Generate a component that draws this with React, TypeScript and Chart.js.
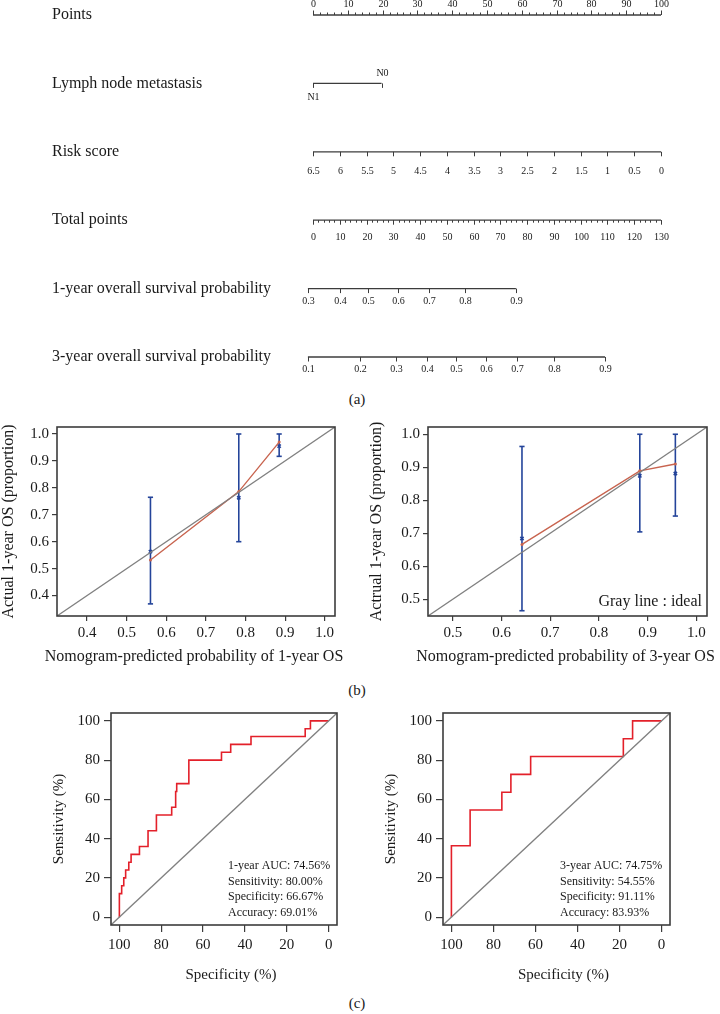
import React, { useEffect, useRef } from "react";
import { Chart, registerables } from "chart.js";

Chart.register(...registerables);

const SERIF = '"Liberation Serif", "DejaVu Serif", "Times New Roman", serif';
const AXIS = "#3c3c3c";
const TEXT = "#1a1a1a";
const GRAY = "#808080";
const BLUE = "#24449a";
const CAL_RED = "#c8644f";
const ROC_RED = "#e3202a";

Chart.defaults.font.family = SERIF;

// ---------------- (a) Nomogram data ----------------
const nomoRowLabels = [
  "Points",
  "Lymph node metastasis",
  "Risk score",
  "Total points",
  "1-year overall survival probability",
  "3-year overall survival probability",
];
const pointTicks = [0, 10, 20, 30, 40, 50, 60, 70, 80, 90, 100];
const lymphLabels = ["N1", "N0"];
const lymphPoints = [0, 19.7];
const riskTicks = [6.5, 6, 5.5, 5, 4.5, 4, 3.5, 3, 2.5, 2, 1.5, 1, 0.5, 0];
const totalTicks = [0, 10, 20, 30, 40, 50, 60, 70, 80, 90, 100, 110, 120, 130];
const os1Ticks = ["0.3", "0.4", "0.5", "0.6", "0.7", "0.8", "0.9"];
const os1TotalPoints = [-1.9, 10.1, 20.5, 31.8, 43.3, 56.8, 75.8];
const os3Ticks = ["0.1", "0.2", "0.3", "0.4", "0.5", "0.6", "0.7", "0.8", "0.9"];
const os3TotalPoints = [-1.9, 17.6, 31.0, 42.6, 53.4, 64.6, 76.2, 90.0, 109.1];

// ---------------- (b) Calibration data ----------------
const cal1Pred = [0.56, 0.783, 0.885];
const cal1Obs = [0.563, 0.763, 0.955];
const cal1Lo = [0.369, 0.6, 0.917];
const cal1Hi = [0.765, 1.0, 1.0];
const cal1Fit = [0.532, 0.786, 0.97];
const cal1Ticks = [0.4, 0.5, 0.6, 0.7, 0.8, 0.9, 1.0];

const cal2Pred = [0.642, 0.884, 0.957];
const cal2Obs = [0.684, 0.874, 0.881];
const cal2Lo = [0.465, 0.704, 0.752];
const cal2Hi = [0.963, 1.0, 1.0];
const cal2Fit = [0.666, 0.889, 0.91];
const cal2Ticks = [0.5, 0.6, 0.7, 0.8, 0.9, 1.0];

// ---------------- (c) ROC data ----------------
const roc1Spec = [100, 98.9, 97.9, 97.0, 95.5, 94.4, 90.4, 86.3, 82.3, 75.0, 73.1, 72.6, 66.8, 51.2, 46.8, 37.1, 11.2, 8.7, 0];
const roc1Sens = [12, 16, 20, 24, 28, 32, 36, 44, 52, 56, 64, 68, 80, 84, 88, 92, 96, 100, 100];
const roc1Text = ["1-year AUC: 74.56%", "Sensitivity: 80.00%", "Specificity: 66.67%", "Accuracy: 69.01%"];

const roc2Spec = [100, 91.1, 76.0, 71.7, 62.3, 18.2, 13.8, 0];
const roc2Sens = [36.36, 54.55, 63.64, 72.73, 81.82, 90.91, 100, 100];
const roc2Text = ["3-year AUC: 74.75%", "Sensitivity: 54.55%", "Specificity: 91.11%", "Accuracy: 83.93%"];

const rocTicks = [0, 20, 40, 60, 80, 100];

// ---------------- helpers ----------------
type Box = { l: number; t: number; r: number; b: number };

const RISK_MAX = riskTicks[0];
const TOTAL_MAX = totalTicks[totalTicks.length - 1];
const riskToPoints = (s: number) => ((RISK_MAX - s) / RISK_MAX) * 100;
const totalToPoints = (t: number) => (t * 100) / TOTAL_MAX;

function ChartCanvas({ box, make }: { box: Box; make: () => any }) {
  const ref = useRef<HTMLCanvasElement | null>(null);
  useEffect(() => {
    if (!ref.current) return;
    const chart = new Chart(ref.current, make());
    return () => chart.destroy();
  }, []);
  const w = box.r - box.l;
  const h = box.b - box.t;
  return (
    <canvas
      ref={ref}
      width={w}
      height={h}
      style={{ position: "absolute", left: box.l, top: box.t, width: w, height: h }}
    />
  );
}

function Caption({ text, x, y }: { text: string; x: number; y: number }) {
  return (
    <div
      style={{
        position: "absolute",
        left: x - 30,
        top: y - 10,
        width: 60,
        height: 20,
        lineHeight: "20px",
        textAlign: "center",
        fontFamily: SERIF,
        fontSize: 15,
        color: TEXT,
      }}
    >
      {text}
    </div>
  );
}

// ---------------- Nomogram ----------------
const NOMO_BOX: Box = { l: 0, t: 0, r: 720, b: 385 };

type NomoAxis = {
  row: number;
  major: number[];
  labels: string[];
  minor: number[];
  tickDir: number;
  labelDy: number[];
};

function makeNomogram() {
  const pointMinor: number[] = [];
  for (let v = 0; v <= 100; v += 2) pointMinor.push(v);
  const totalMinor: number[] = [];
  for (let v = 0; v <= TOTAL_MAX; v += 2) totalMinor.push(totalToPoints(v));

  const axes: NomoAxis[] = [
    { row: 0, major: pointTicks, labels: pointTicks.map(String), minor: pointMinor, tickDir: -1, labelDy: pointTicks.map(() => -11) },
    { row: 1, major: lymphPoints, labels: lymphLabels, minor: [], tickDir: 1, labelDy: [14, -10] },
    { row: 2, major: riskTicks.map(riskToPoints), labels: riskTicks.map(String), minor: [], tickDir: 1, labelDy: riskTicks.map(() => 20) },
    { row: 3, major: totalTicks.map(totalToPoints), labels: totalTicks.map(String), minor: totalMinor, tickDir: 1, labelDy: totalTicks.map(() => 17) },
    { row: 4, major: os1TotalPoints.map(totalToPoints), labels: os1Ticks, minor: [], tickDir: 1, labelDy: os1Ticks.map(() => 13) },
    { row: 5, major: os3TotalPoints.map(totalToPoints), labels: os3Ticks, minor: [], tickDir: 1, labelDy: os3Ticks.map(() => 12) },
  ];

  const datasets = axes.map((a) => {
    const all = a.major.concat(a.minor);
    return {
      data: [
        { x: Math.min(...all), y: a.row },
        { x: Math.max(...all), y: a.row },
      ],
      showLine: true,
      borderColor: AXIS,
      borderWidth: 1.3,
      pointRadius: 0,
      clip: false,
    };
  });

  const nomoPlugin = {
    id: "nomoTicks",
    afterDatasetsDraw(chart: any) {
      const { ctx } = chart;
      const xs = chart.scales.x;
      const ys = chart.scales.y;
      ctx.save();
      ctx.fillStyle = TEXT;
      ctx.font = `16px ${SERIF}`;
      ctx.textAlign = "left";
      ctx.textBaseline = "middle";
      nomoRowLabels.forEach((lab, i) => ctx.fillText(lab, 52, ys.getPixelForValue(i)));

      ctx.strokeStyle = AXIS;
      ctx.lineWidth = 1;
      ctx.font = `10px ${SERIF}`;
      ctx.textAlign = "center";
      axes.forEach((a) => {
        const y = ys.getPixelForValue(a.row);
        a.minor.forEach((v) => {
          const x = Math.round(xs.getPixelForValue(v)) + 0.5;
          ctx.beginPath();
          ctx.moveTo(x, y);
          ctx.lineTo(x, y + a.tickDir * 2.5);
          ctx.stroke();
        });
        a.major.forEach((v, i) => {
          const x = Math.round(xs.getPixelForValue(v)) + 0.5;
          ctx.beginPath();
          ctx.moveTo(x, y);
          ctx.lineTo(x, y + a.tickDir * 4.5);
          ctx.stroke();
          ctx.fillText(a.labels[i], x, y + a.labelDy[i]);
        });
      });
      ctx.restore();
    },
  };

  return {
    type: "scatter",
    data: { datasets },
    options: {
      responsive: false,
      animation: false,
      events: [],
      layout: { padding: { left: 313, right: 59, top: 15, bottom: 28 } },
      plugins: { legend: { display: false }, tooltip: { enabled: false } },
      scales: {
        x: { type: "linear", display: false, min: 0, max: 100 },
        y: { type: "linear", display: false, min: 0, max: nomoRowLabels.length - 1, reverse: true },
      },
    },
    plugins: [nomoPlugin],
  };
}

// ---------------- shared axis frame plugin ----------------
type FrameOpts = {
  xTitle: string;
  yTitle: string;
  xTitleDy: number;
  xTitleDx: number;
  yTitleDx: number;
  titleSize: number;
  notes?: string[];
  notesDx?: number;
  notesDy?: number;
  notesStep?: number;
  notesSize?: number;
  noteRight?: string;
};

function framePlugin(o: FrameOpts) {
  return {
    id: "frame",
    afterDraw(chart: any) {
      const { ctx, chartArea: a } = chart;
      ctx.save();
      ctx.strokeStyle = AXIS;
      ctx.lineWidth = 1.6;
      ctx.strokeRect(a.left, a.top, a.right - a.left, a.bottom - a.top);
      ctx.fillStyle = TEXT;
      ctx.font = `${o.titleSize}px ${SERIF}`;
      ctx.textAlign = "center";
      ctx.textBaseline = "middle";
      ctx.fillText(o.xTitle, (a.left + a.right) / 2 + o.xTitleDx, a.bottom + o.xTitleDy);
      ctx.save();
      ctx.translate(a.left - o.yTitleDx, (a.top + a.bottom) / 2);
      ctx.rotate(-Math.PI / 2);
      ctx.fillText(o.yTitle, 0, 0);
      ctx.restore();
      if (o.notes) {
        ctx.font = `${o.notesSize}px ${SERIF}`;
        ctx.textAlign = "left";
        o.notes.forEach((t, i) =>
          ctx.fillText(t, a.left + (o.notesDx || 0), a.bottom - (o.notesDy || 0) + i * (o.notesStep || 15))
        );
      }
      if (o.noteRight) {
        ctx.font = `${o.titleSize}px ${SERIF}`;
        ctx.textAlign = "right";
        ctx.fillText(o.noteRight, a.right - 5, a.bottom - 14);
      }
      ctx.restore();
    },
  };
}

function axisScales(
  canvas: Box,
  plot: Box,
  range: [number, number],
  xTicks: number[],
  yTicks: number[],
  fmt: (v: number) => string,
  opts: { reverseX?: boolean; tickLen: number; pad: number; size: number; xRange?: [number, number] }
) {
  const xr = opts.xRange || range;
  const common = (ticks: number[]) => ({
    type: "linear",
    afterBuildTicks: (s: any) => {
      s.ticks = ticks.map((v) => ({ value: v }));
    },
    ticks: {
      callback: (v: any) => fmt(Number(v)),
      font: { family: SERIF, size: opts.size },
      color: TEXT,
      padding: opts.pad,
      maxRotation: 0,
      minRotation: 0,
      autoSkip: false,
    },
    grid: { drawOnChartArea: false, drawTicks: true, tickLength: opts.tickLen, color: AXIS, lineWidth: 1.2 },
    border: { display: false },
  });
  return {
    x: {
      ...common(xTicks),
      min: xr[0],
      max: xr[1],
      reverse: !!opts.reverseX,
      afterFit: (s: any) => {
        s.height = canvas.b - plot.b;
      },
    },
    y: {
      ...common(yTicks),
      min: range[0],
      max: range[1],
      afterFit: (s: any) => {
        s.width = plot.l - canvas.l;
      },
    },
  };
}

// ---------------- Calibration ----------------
type CalParams = {
  canvas: Box;
  plot: Box;
  range: [number, number];
  ticks: number[];
  pred: number[];
  obs: number[];
  lo: number[];
  hi: number[];
  fit: number[];
  xTitle: string;
  yTitle: string;
  yTitleDx: number;
  noteRight?: string;
};

function calibrationConfig(p: CalParams) {
  const datasets: any[] = [
    {
      data: [
        { x: p.range[0], y: p.range[0] },
        { x: p.range[1], y: p.range[1] },
      ],
      showLine: true,
      borderColor: GRAY,
      borderWidth: 1.3,
      pointRadius: 0,
    },
    {
      data: p.pred.map((x, i) => ({ x, y: p.fit[i] })),
      showLine: true,
      borderColor: CAL_RED,
      borderWidth: 1.4,
      pointRadius: 1.5,
      pointBackgroundColor: CAL_RED,
      pointBorderWidth: 0,
    },
    ...p.pred.map((x, i) => ({
      data: [
        { x, y: p.lo[i] },
        { x, y: p.hi[i] },
      ],
      showLine: true,
      borderColor: BLUE,
      borderWidth: 1.6,
      pointStyle: "line",
      pointRadius: 2.6,
      pointBorderColor: BLUE,
      pointBorderWidth: 1.6,
    })),
    {
      data: p.pred.map((x, i) => ({ x, y: p.obs[i] })),
      showLine: false,
      pointStyle: "crossRot",
      pointRadius: 2.3,
      pointBorderColor: BLUE,
      pointBorderWidth: 1.6,
    },
  ];
  return {
    type: "scatter",
    data: { datasets },
    options: {
      responsive: false,
      animation: false,
      events: [],
      layout: {
        padding: { left: 0, top: p.plot.t - p.canvas.t, right: p.canvas.r - p.plot.r, bottom: 0 },
      },
      plugins: { legend: { display: false }, tooltip: { enabled: false } },
      scales: axisScales(p.canvas, p.plot, p.range, p.ticks, p.ticks, (v) => v.toFixed(1), {
        tickLen: 5,
        pad: 3,
        size: 15,
      }),
    },
    plugins: [
      framePlugin({
        xTitle: p.xTitle,
        yTitle: p.yTitle,
        xTitleDy: 41,
        xTitleDx: -2,
        yTitleDx: p.yTitleDx,
        titleSize: 16,
        noteRight: p.noteRight,
      }),
    ],
  };
}

// ---------------- ROC ----------------
function rocVertices(spec: number[], sens: number[]) {
  const pts: { x: number; y: number }[] = [];
  let prev = 0;
  spec.forEach((s, i) => {
    pts.push({ x: s, y: prev });
    pts.push({ x: s, y: sens[i] });
    prev = sens[i];
  });
  return pts;
}

function rocConfig(canvas: Box, plot: Box, spec: number[], sens: number[], notes: string[]) {
  const range: [number, number] = [-4, 104];
  const datasets: any[] = [
    {
      data: [
        { x: range[1], y: range[0] },
        { x: range[0], y: range[1] },
      ],
      showLine: true,
      borderColor: GRAY,
      borderWidth: 1.3,
      pointRadius: 0,
    },
    {
      data: rocVertices(spec, sens),
      showLine: true,
      borderColor: ROC_RED,
      borderWidth: 1.6,
      pointRadius: 0,
    },
  ];
  return {
    type: "scatter",
    data: { datasets },
    options: {
      responsive: false,
      animation: false,
      events: [],
      layout: {
        padding: { left: 0, top: plot.t - canvas.t, right: canvas.r - plot.r, bottom: 0 },
      },
      plugins: { legend: { display: false }, tooltip: { enabled: false } },
      scales: axisScales(canvas, plot, range, rocTicks, rocTicks, (v) => String(Math.round(v)), {
        reverseX: true,
        tickLen: 7,
        pad: 4,
        size: 15,
      }),
    },
    plugins: [
      framePlugin({
        xTitle: "Specificity (%)",
        yTitle: "Sensitivity (%)",
        xTitleDy: 50,
        xTitleDx: 7,
        yTitleDx: 52,
        titleSize: 15,
        notes,
        notesDx: 117,
        notesDy: 59,
        notesStep: 15.5,
        notesSize: 12,
      }),
    ],
  };
}

// ---------------- layout boxes ----------------
const CAL1_CANVAS: Box = { l: 0, t: 410, r: 360, b: 672 };
const CAL1_PLOT: Box = { l: 57, t: 427, r: 335, b: 616 };
const CAL2_CANVAS: Box = { l: 360, t: 410, r: 720, b: 672 };
const CAL2_PLOT: Box = { l: 428, t: 427, r: 707, b: 616 };
const ROC1_CANVAS: Box = { l: 40, t: 700, r: 355, b: 990 };
const ROC1_PLOT: Box = { l: 111, t: 713, r: 337, b: 925 };
const ROC2_CANVAS: Box = { l: 375, t: 700, r: 690, b: 990 };
const ROC2_PLOT: Box = { l: 443, t: 713, r: 670, b: 925 };

export default function App() {
  return (
    <div
      style={{
        position: "absolute",
        left: 0,
        top: 0,
        width: 720,
        height: 1014,
        background: "#ffffff",
        overflow: "hidden",
      }}
    >
      <ChartCanvas box={NOMO_BOX} make={makeNomogram} />
      <Caption text="(a)" x={357} y={399} />
      <ChartCanvas
        box={CAL1_CANVAS}
        make={() =>
          calibrationConfig({
            canvas: CAL1_CANVAS,
            plot: CAL1_PLOT,
            range: [0.324, 1.026],
            ticks: cal1Ticks,
            pred: cal1Pred,
            obs: cal1Obs,
            lo: cal1Lo,
            hi: cal1Hi,
            fit: cal1Fit,
            xTitle: "Nomogram-predicted probability of 1-year OS",
            yTitle: "Actual 1-year OS (proportion)",
            yTitleDx: 48,
          })
        }
      />
      <ChartCanvas
        box={CAL2_CANVAS}
        make={() =>
          calibrationConfig({
            canvas: CAL2_CANVAS,
            plot: CAL2_PLOT,
            range: [0.449, 1.022],
            ticks: cal2Ticks,
            pred: cal2Pred,
            obs: cal2Obs,
            lo: cal2Lo,
            hi: cal2Hi,
            fit: cal2Fit,
            xTitle: "Nomogram-predicted probability of 3-year OS",
            yTitle: "Actrual 1-year OS (proportion)",
            yTitleDx: 51,
            noteRight: "Gray line : ideal",
          })
        }
      />
      <Caption text="(b)" x={357} y={690} />
      <ChartCanvas box={ROC1_CANVAS} make={() => rocConfig(ROC1_CANVAS, ROC1_PLOT, roc1Spec, roc1Sens, roc1Text)} />
      <ChartCanvas box={ROC2_CANVAS} make={() => rocConfig(ROC2_CANVAS, ROC2_PLOT, roc2Spec, roc2Sens, roc2Text)} />
      <Caption text="(c)" x={357} y={1003} />
    </div>
  );
}
